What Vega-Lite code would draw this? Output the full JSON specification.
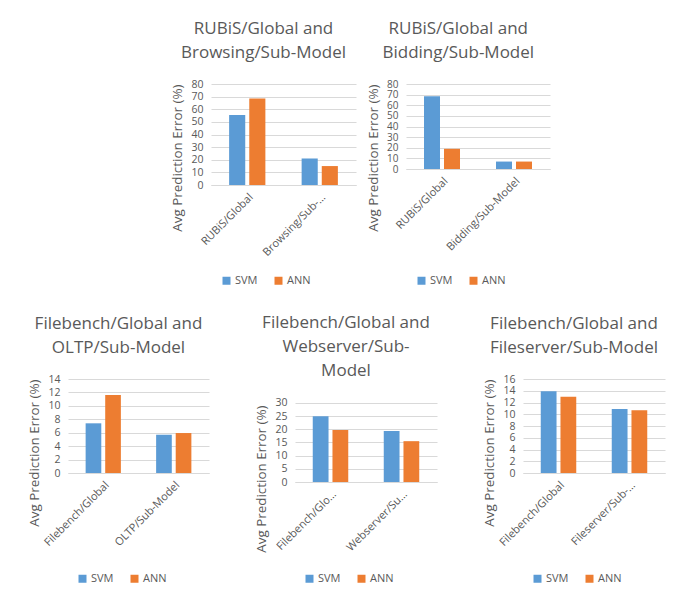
{
  "$schema": "https://vega.github.io/schema/vega-lite/v6.json",
  "padding": {"left": 27, "top": 20, "right": 10, "bottom": 5},
  "background": "white",
  "config": {
    "font": "Open Sans",
    "view": {"stroke": null},
    "axis": {"labelColor": "#595959", "titleColor": "#595959", "labelFont": "Open Sans", "titleFont": "Open Sans", "labelFontSize": 10.5, "titleFontSize": 13.4, "titleFontWeight": "normal", "gridColor": "#D9D9D9", "domainColor": "#D9D9D9", "ticks": false, "tickSize": 0, "labelOverlap": false},
    "axisY": {"domain": false, "labelPadding": 8, "titlePadding": 6, "titleAnchor": "end"},
    "axisX": {"grid": false, "labelPadding": 6, "labelAngle": -45, "labelFontSize": 11},
    "title": {"font": "Open Sans", "fontSize": 17, "fontWeight": "normal", "color": "#595959", "lineHeight": 24, "anchor": "middle", "frame": "bounds", "offset": 17},
    "legend": {"orient": "none", "direction": "horizontal", "symbolType": "square", "symbolSize": 64, "symbolStrokeWidth": 0, "labelFont": "Open Sans", "labelFontSize": 11, "labelColor": "#595959", "columnPadding": 15, "labelOffset": 3, "padding": 0}
  },
  "spacing": 28,
  "resolve": {"scale": {"x": "independent", "y": "independent", "xOffset": "independent", "color": "independent"}, "legend": {"color": "independent"}},
  "vconcat": [
    {
      "spacing": 10,
      "resolve": {"scale": {"x": "independent", "y": "independent", "xOffset": "independent", "color": "independent"}, "legend": {"color": "independent"}},
      "hconcat": [
        {"width": 92, "height": 10, "data": {"values": []}, "mark": "bar", "encoding": {}},
        {
          "width": 145, "height": 101,
          "title": {"text": ["RUBiS/Global and", "Browsing/Sub-Model"]},
          "data": {"values": [
            {"category": "RUBiS/Global", "model": "SVM", "value": 55.5},
            {"category": "RUBiS/Global", "model": "ANN", "value": 68.5},
            {"category": "Browsing/Sub-…", "model": "SVM", "value": 21},
            {"category": "Browsing/Sub-…", "model": "ANN", "value": 15}
          ]},
          "mark": "bar",
          "encoding": {
            "x": {"field": "category", "type": "nominal", "sort": null, "scale": {"paddingInner": 0.5, "paddingOuter": 0.25}, "axis": {"title": null}},
            "xOffset": {"field": "model", "type": "nominal", "sort": ["SVM", "ANN"], "scale": {"paddingInner": 0.2}},
            "y": {"field": "value", "type": "quantitative", "scale": {"domain": [0, 80]}, "axis": {"title": "Avg Prediction Error (%)", "values": [0, 10, 20, 30, 40, 50, 60, 70, 80]}},
            "color": {"field": "model", "type": "nominal", "sort": ["SVM", "ANN"], "scale": {"range": ["#5B9BD5", "#ED7D31"]}, "legend": {"title": null, "legendX": 10, "legendY": 191}}
          }
        },
        {
          "width": 144, "height": 85,
          "title": {"text": ["RUBiS/Global and", "Bidding/Sub-Model"]},
          "data": {"values": [
            {"category": "RUBiS/Global", "model": "SVM", "value": 68.5},
            {"category": "RUBiS/Global", "model": "ANN", "value": 19},
            {"category": "Bidding/Sub-Model", "model": "SVM", "value": 7},
            {"category": "Bidding/Sub-Model", "model": "ANN", "value": 7}
          ]},
          "mark": "bar",
          "encoding": {
            "x": {"field": "category", "type": "nominal", "sort": null, "scale": {"paddingInner": 0.5, "paddingOuter": 0.25}, "axis": {"title": null}},
            "xOffset": {"field": "model", "type": "nominal", "sort": ["SVM", "ANN"], "scale": {"paddingInner": 0.2}},
            "y": {"field": "value", "type": "quantitative", "scale": {"domain": [0, 80]}, "axis": {"title": "Avg Prediction Error (%)", "values": [0, 10, 20, 30, 40, 50, 60, 70, 80], "labelFontSize": 10}},
            "color": {"field": "model", "type": "nominal", "sort": ["SVM", "ANN"], "scale": {"range": ["#5B9BD5", "#ED7D31"]}, "legend": {"title": null, "legendX": 10, "legendY": 191}}
          }
        }
      ]
    },
    {
      "spacing": 45,
      "resolve": {"scale": {"x": "independent", "y": "independent", "xOffset": "independent", "color": "independent"}, "legend": {"color": "independent"}},
      "hconcat": [
        {
          "width": 141, "height": 94,
          "title": {"text": ["Filebench/Global and", "OLTP/Sub-Model"]},
          "data": {"values": [
            {"category": "Filebench/Global", "model": "SVM", "value": 7.4},
            {"category": "Filebench/Global", "model": "ANN", "value": 11.6},
            {"category": "OLTP/Sub-Model", "model": "SVM", "value": 5.7},
            {"category": "OLTP/Sub-Model", "model": "ANN", "value": 5.95}
          ]},
          "mark": "bar",
          "encoding": {
            "x": {"field": "category", "type": "nominal", "sort": null, "scale": {"paddingInner": 0.5, "paddingOuter": 0.25}, "axis": {"title": null}},
            "xOffset": {"field": "model", "type": "nominal", "sort": ["SVM", "ANN"], "scale": {"paddingInner": 0.2}},
            "y": {"field": "value", "type": "quantitative", "scale": {"domain": [0, 14]}, "axis": {"title": "Avg Prediction Error (%)", "values": [0, 2, 4, 6, 8, 10, 12, 14]}},
            "color": {"field": "model", "type": "nominal", "sort": ["SVM", "ANN"], "scale": {"range": ["#5B9BD5", "#ED7D31"]}, "legend": {"title": null, "legendX": 9, "legendY": 194}}
          }
        },
        {
          "width": 142, "height": 103,
          "title": {"text": ["Filebench/Global and", "Webserver/Sub-", "Model"], "offset": -1},
          "data": {"values": [
            {"category": "Filebench/Glo…", "model": "SVM", "value": 25},
            {"category": "Filebench/Glo…", "model": "ANN", "value": 19.7},
            {"category": "Webserver/Su…", "model": "SVM", "value": 19.4},
            {"category": "Webserver/Su…", "model": "ANN", "value": 15.5}
          ]},
          "mark": "bar",
          "encoding": {
            "x": {"field": "category", "type": "nominal", "sort": null, "scale": {"paddingInner": 0.5, "paddingOuter": 0.25}, "axis": {"title": null}},
            "xOffset": {"field": "model", "type": "nominal", "sort": ["SVM", "ANN"], "scale": {"paddingInner": 0.2}},
            "y": {"field": "value", "type": "quantitative", "scale": {"domain": [0, 39.1], "nice": false}, "axis": {"title": "Avg Prediction Error (%)", "values": [0, 5, 10, 15, 20, 25, 30], "titleY": 26}},
            "color": {"field": "model", "type": "nominal", "sort": ["SVM", "ANN"], "scale": {"range": ["#5B9BD5", "#ED7D31"]}, "legend": {"title": null, "legendX": 9, "legendY": 194}}
          }
        },
        {
          "width": 142, "height": 94,
          "title": {"text": ["Filebench/Global and", "Fileserver/Sub-Model"]},
          "data": {"values": [
            {"category": "Filebench/Global", "model": "SVM", "value": 13.9},
            {"category": "Filebench/Global", "model": "ANN", "value": 13},
            {"category": "Fileserver/Sub-…", "model": "SVM", "value": 10.9},
            {"category": "Fileserver/Sub-…", "model": "ANN", "value": 10.7}
          ]},
          "mark": "bar",
          "encoding": {
            "x": {"field": "category", "type": "nominal", "sort": null, "scale": {"paddingInner": 0.5, "paddingOuter": 0.25}, "axis": {"title": null}},
            "xOffset": {"field": "model", "type": "nominal", "sort": ["SVM", "ANN"], "scale": {"paddingInner": 0.2}},
            "y": {"field": "value", "type": "quantitative", "scale": {"domain": [0, 16]}, "axis": {"title": "Avg Prediction Error (%)", "values": [0, 2, 4, 6, 8, 10, 12, 14, 16]}},
            "color": {"field": "model", "type": "nominal", "sort": ["SVM", "ANN"], "scale": {"range": ["#5B9BD5", "#ED7D31"]}, "legend": {"title": null, "legendX": 9, "legendY": 194}}
          }
        }
      ]
    }
  ]
}
